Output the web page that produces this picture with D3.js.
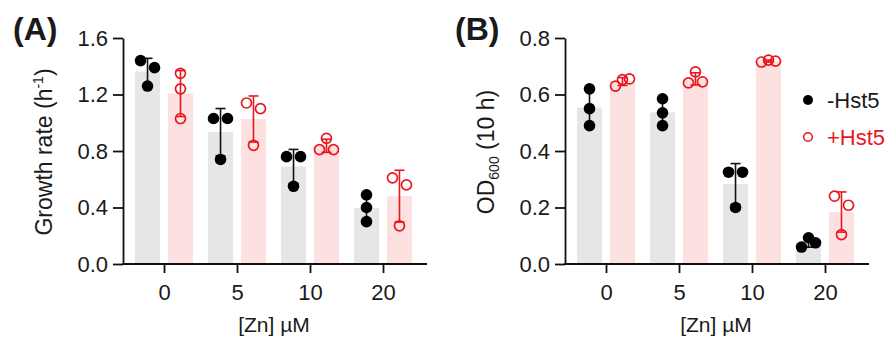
<!DOCTYPE html>
<meta charset="utf-8">
<script src="https://d3js.org/d3.v7.min.js"></script>
<style>
  body { margin: 0; background: #fff; }
  text { font-family: "Liberation Sans", Arial, sans-serif; fill: #1a1a1a; }
</style>
<div id="my_dataviz"></div>
<script>

// categories and tick labels
var zinc = ["0", "5", "10", "20"];
var growthTicks = [0, 0.4, 0.8, 1.2, 1.6];
var odTicks = [0, 0.2, 0.4, 0.6, 0.8];

// panel A: growth rate (h-1), three replicates per zinc level
var growthMinus = [[1.44, 1.39, 1.26], [1.03, 1.03, 0.74], [0.76, 0.76, 0.55], [0.49, 0.40, 0.30]];
var growthPlus  = [[1.35, 1.24, 1.03], [1.14, 1.10, 0.84], [0.81, 0.81, 0.89], [0.61, 0.56, 0.27]];

// panel B: OD600 after 10 h
var odMinus = [[0.62, 0.55, 0.49], [0.585, 0.535, 0.49], [0.325, 0.325, 0.20], [0.06, 0.093, 0.075]];
var odPlus  = [[0.63, 0.653, 0.655], [0.68, 0.641, 0.645], [0.715, 0.722, 0.718], [0.24, 0.208, 0.104]];

// how the replicate dots are spread sideways (-1 left, 0 centre, 1 right)
var growthMinusSpread = [[-1, 1, 0], [-1, 1, 0], [-1, 1, 0], [0, 0, 0]];
var growthPlusSpread  = [[0, 0, 0], [-1, 1, 0], [-1, 1, 0], [-1, 1, 0]];
var odMinusSpread = [[0, 0, 0], [0, 0, 0], [-1, 1, 0], [-1, 0, 1]];
var odPlusSpread  = [[-1, 0, 1], [0, -1, 1], [-1, 0, 1], [-1, 1, 0]];

var series = ["-Hst5", "+Hst5"];

var W = 893, H = 344;
var gray = "#e6e6e6", pink = "#fde1e1", red = "#e8161d";

var svg = d3.select("#my_dataviz")
  .append("svg")
    .attr("width", W)
    .attr("height", H);

function panel(left, label, yMax, yTicks, minus, plus, minusSpread, plusSpread, yTitle) {
  var g = svg.append("g").attr("transform", "translate(" + left + ",0)");
  var x0 = 0, x1 = 304, top = 38, bottom = 264;

  var y = d3.scaleLinear().domain([0, yMax]).range([bottom, top]);
  var x = d3.scalePoint().domain(zinc).range([41, 260]);
  var xs = d3.scaleBand().domain(series).range([-29, 29]).paddingInner(0.24);

  var groups = zinc.map(function(z, i) {
    return [
      {s: series[0], z: z, v: minus[i], sp: minusSpread[i]},
      {s: series[1], z: z, v: plus[i], sp: plusSpread[i]}
    ];
  });
  var all = d3.merge(groups);
  all.forEach(function(d) {
    d.mean = d3.mean(d.v);
    d.sd = d3.deviation(d.v);
    d.cx = x(d.z) + xs(d.s) + xs.bandwidth() / 2;
  });

  // bars
  g.selectAll("rect.bar")
    .data(all)
    .enter()
    .append("rect")
      .attr("x", function(d) { return x(d.z) + xs(d.s); })
      .attr("y", function(d) { return y(d.mean); })
      .attr("width", xs.bandwidth())
      .attr("height", function(d) { return y(0) - y(d.mean); })
      .attr("fill", function(d) { return d.s === series[0] ? gray : pink; });

  // error bars (mean +/- SD)
  var eb = g.selectAll("g.err")
    .data(all)
    .enter()
    .append("g")
      .attr("stroke", function(d) { return d.s === series[0] ? "#111" : red; })
      .attr("stroke-width", 1.6)
      .attr("fill", "none");
  eb.append("line")
    .attr("x1", function(d) { return d.cx; })
    .attr("x2", function(d) { return d.cx; })
    .attr("y1", function(d) { return y(d.mean + d.sd); })
    .attr("y2", function(d) { return y(Math.max(0, d.mean - d.sd)); });
  eb.append("line")
    .attr("x1", function(d) { return d.cx - 5; })
    .attr("x2", function(d) { return d.cx + 5; })
    .attr("y1", function(d) { return y(d.mean + d.sd); })
    .attr("y2", function(d) { return y(d.mean + d.sd); });
  eb.append("line")
    .attr("x1", function(d) { return d.cx - 5; })
    .attr("x2", function(d) { return d.cx + 5; })
    .attr("y1", function(d) { return y(Math.max(0, d.mean - d.sd)); })
    .attr("y2", function(d) { return y(Math.max(0, d.mean - d.sd)); });

  // replicate points
  var pts = [];
  all.forEach(function(d) {
    d.v.forEach(function(v, k) { pts.push({s: d.s, cx: d.cx + d.sp[k] * 7, v: v}); });
  });
  g.selectAll("circle.pt")
    .data(pts)
    .enter()
    .append("circle")
      .attr("cx", function(d) { return d.cx; })
      .attr("cy", function(d) { return y(d.v); })
      .attr("r", function(d) { return d.s === series[0] ? 5.8 : 5; })
      .attr("fill", function(d) { return d.s === series[0] ? "#000" : "none"; })
      .attr("stroke", function(d) { return d.s === series[0] ? "none" : red; })
      .attr("stroke-width", 1.7);

  // y axis
  var ya = g.append("g")
    .attr("transform", "translate(" + x0 + ",0)")
    .call(d3.axisLeft(y).tickValues(yTicks).tickFormat(d3.format(".1f")).tickSize(10).tickSizeOuter(0).tickPadding(5));
  ya.selectAll("path, line").attr("stroke", "#111").attr("stroke-width", 1.8);
  ya.selectAll("text").style("font-size", "22px").attr("fill", "#1a1a1a");

  // x axis
  var xa = g.append("g")
    .attr("transform", "translate(0," + bottom + ")")
    .call(d3.axisBottom(x).tickSize(9).tickPadding(11));
  xa.select(".domain").remove();
  xa.selectAll("line").attr("stroke", "#111").attr("stroke-width", 1.8);
  xa.selectAll("text").style("font-size", "22px").attr("fill", "#1a1a1a");
  g.append("line")
    .attr("x1", x0 - 0.9).attr("x2", x1)
    .attr("y1", bottom).attr("y2", bottom)
    .attr("stroke", "#111").attr("stroke-width", 1.8);

  // titles
  g.append("text")
    .attr("x", (x0 + x1) / 2 - 1)
    .attr("y", 332)
    .attr("text-anchor", "middle")
    .style("font-size", "21px")
    .text("[Zn] µM");

  var yt = g.append("text")
    .attr("transform", "translate(" + (left === 0 ? -67 : -71) + "," + 152 + ") rotate(-90)")
    .attr("text-anchor", "middle")
    .style("font-size", "23px");
  yTitle(yt);

  g.append("text")
    .attr("x", left === 0 ? -115 : -110)
    .attr("y", 40)
    .style("font-size", "32px")
    .style("font-weight", "bold")
    .text(label);

  return g;
}

panel(123, "(A)", 1.6, growthTicks, growthMinus, growthPlus, growthMinusSpread, growthPlusSpread, function(t) {
  t.append("tspan").text("Growth rate (h");
  t.append("tspan").attr("dy", -9).style("font-size", "14px").text("-1");
  t.append("tspan").attr("dy", 9).text(")");
});

var gB = panel(565, "(B)", 0.8, odTicks, odMinus, odPlus, odMinusSpread, odPlusSpread, function(t) {
  t.append("tspan").text("OD");
  t.append("tspan").attr("dy", 5).style("font-size", "14px").text("600");
  t.append("tspan").attr("dy", -5).text(" (10 h)");
});

// legend
var legend = svg.append("g").attr("transform", "translate(808,0)");
legend.selectAll("g")
  .data(series)
  .enter()
  .append("g")
    .attr("transform", function(d, i) { return "translate(0," + (100 + i * 37) + ")"; })
    .each(function(d, i) {
      var s = d3.select(this);
      s.append("circle")
        .attr("r", i === 0 ? 5 : 4.3)
        .attr("fill", i === 0 ? "#000" : "none")
        .attr("stroke", i === 0 ? "none" : red)
        .attr("stroke-width", 1.6);
      s.append("text")
        .attr("x", 19)
        .attr("y", 7.5)
        .style("font-size", "22px")
        .attr("fill", i === 0 ? "#1a1a1a" : red)
        .style("fill", i === 0 ? "#1a1a1a" : red)
        .text(d);
    });

</script>
